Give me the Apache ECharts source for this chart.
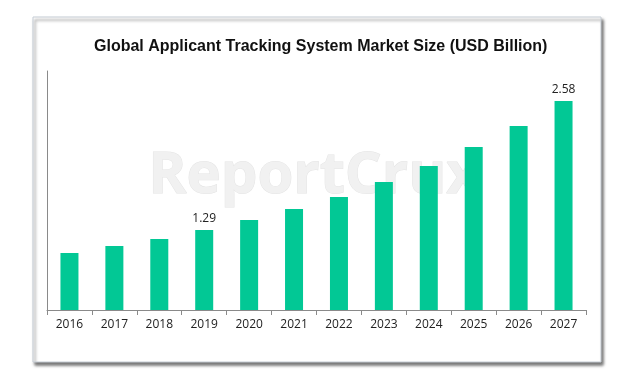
<!DOCTYPE html>
<html>
<head>
<meta charset="utf-8">
<script src="https://cdn.jsdelivr.net/npm/echarts@6/dist/echarts.min.js"></script>
<style>html,body{margin:0;padding:0;background:#fff;}#c{width:627px;height:380px;}</style>
</head>
<body>
<div id="c"></div>
<script>
const titleText = 'Global Applicant Tracking System Market Size (USD Billion)';
const years = ['2016','2017','2018','2019','2020','2021','2022','2023','2024','2025','2026','2027'];
const marketSize = [1.06, 1.13, 1.20, 1.29, 1.39, 1.50, 1.62, 1.77, 1.93, 2.12, 2.33, 2.58];
const labelledYears = ['2019', '2027'];
const watermark = 'ReportCrux';

const chart = echarts.init(document.getElementById('c'), null, {renderer: 'canvas'});
chart.setOption({
  animation: false,
  backgroundColor: '#ffffff',
  title: {
    text: titleText,
    left: 89,
    top: 34,
    textStyle: {fontFamily: 'Liberation Sans, Arial, sans-serif', fontWeight: 'bold', fontSize: 16, color: '#111'}
  },
  graphic: [
    {
      type: 'rect', z: -10, silent: true,
      shape: {x: 33, y: 17, width: 568, height: 345},
      style: {fill: '#fff', stroke: '#c5ccd4', lineWidth: 1, shadowBlur: 3, shadowOffsetX: 2, shadowOffsetY: 3, shadowColor: 'rgba(0,0,0,0.55)'}
    },
    {
      type: 'text', z: -5, silent: true,
      style: {x: 314, y: 176, text: watermark, align: 'center', verticalAlign: 'middle',
        font: 'bold 58px "Open Sans", sans-serif', fill: '#f1f1f1', stroke: '#e4e4e4', lineWidth: 1}
    }
  ],
  grid: {left: 47, right: 41, top: 71, bottom: 70, containLabel: false},
  xAxis: {
    type: 'category',
    data: years,
    boundaryGap: true,
    axisLine: {show: true, lineStyle: {color: '#8a8a8a', width: 1}},
    axisTick: {show: true, length: 5, lineStyle: {color: '#8a8a8a'}},
    axisLabel: {color: '#222', fontSize: 12, fontFamily: 'Open Sans, sans-serif', margin: 9}
  },
  yAxis: {
    type: 'value',
    min: 0.49,
    max: 2.88,
    axisLine: {show: true, lineStyle: {color: '#8a8a8a', width: 1}},
    axisTick: {show: false},
    axisLabel: {show: false},
    splitLine: {show: false}
  },
  series: [{
    type: 'bar',
    barWidth: 18,
    itemStyle: {color: '#02c895'},
    data: marketSize.map((v, i) => ({
      value: v,
      label: {show: labelledYears.includes(years[i])}
    })),
    label: {
      position: 'top',
      distance: 5,
      color: '#222',
      fontSize: 12,
      fontFamily: 'Open Sans, sans-serif',
      formatter: p => p.value.toFixed(2)
    }
  }]
});
</script>
</body>
</html>
